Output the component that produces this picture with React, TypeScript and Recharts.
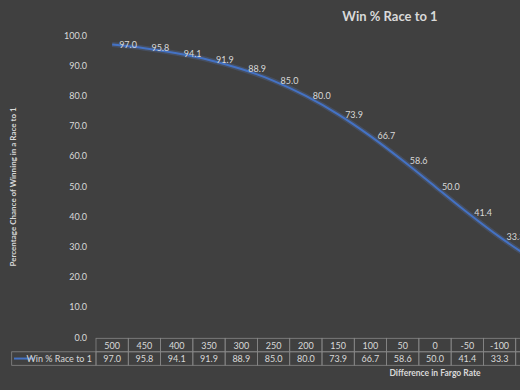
import { LineChart, Line, XAxis, YAxis, LabelList, Customized } from 'recharts';

const fargoDiff = ['500', '450', '400', '350', '300', '250', '200', '150', '100', '50', '0', '-50', '-100', '-150', '-200', '-250', '-300', '-350', '-400', '-450', '-500'];
const winPct = [97.0, 95.8, 94.1, 91.9, 88.9, 85.0, 80.0, 73.9, 66.7, 58.6, 50.0, 41.4, 33.3, 26.1, 20.0, 15.0, 11.1, 8.1, 5.9, 4.2, 3.0];
const yTicks = [0, 10, 20, 30, 40, 50, 60, 70, 80, 90, 100];

const seriesName = 'Win % Race to 1';
const data = fargoDiff.map((d, i) => ({ diff: d, win: winPct[i] }));

const W = 780;
const H = 390;
const LEFT = 96;
const RIGHT = 6;
const TOP = 35.5;
const BOTTOM = 52.5;
const COL_W = (W - LEFT - RIGHT) / fargoDiff.length;
const TABLE_TOP = 338.3;
const ROW_H = 13.5;

const FONT = 'Lato, "Open Sans", sans-serif';
const TEXT = '#d9d9d9';
const GRID = '#868686';
const BLUE = '#4472c4';

function TableTick(props: any) {
  const { x, index, payload } = props;
  const left = x - COL_W / 2;
  return (
    <g>
      <rect x={left} y={TABLE_TOP} width={COL_W} height={ROW_H} fill="none" stroke={GRID} strokeWidth={0.8} />
      <rect x={left} y={TABLE_TOP + ROW_H} width={COL_W} height={ROW_H} fill="none" stroke={GRID} strokeWidth={0.8} />
      <text x={x} y={TABLE_TOP + ROW_H / 2} textAnchor="middle" dominantBaseline="central" fontSize={9} fill={TEXT} fontFamily={FONT}>
        {payload.value}
      </text>
      <text x={x} y={TABLE_TOP + ROW_H * 1.5} textAnchor="middle" dominantBaseline="central" fontSize={9} fill={TEXT} fontFamily={FONT}>
        {winPct[index].toFixed(1)}
      </text>
    </g>
  );
}

function Extras() {
  const rowY = TABLE_TOP + ROW_H;
  return (
    <g fontFamily={FONT}>
      <text x={390} y={15.5} textAnchor="middle" dominantBaseline="central" fontSize={13} fontWeight="bold" fill={TEXT}>
        {seriesName}
      </text>
      <text
        x={13}
        y={187}
        transform="rotate(-90 13 187)"
        textAnchor="middle"
        dominantBaseline="central"
        fontSize={8}
        fontWeight="bold"
        fill={TEXT}
      >
        Percentage Chance of Winning in a Race to 1
      </text>
      <text x={435} y={372.5} textAnchor="middle" dominantBaseline="central" fontSize={8.5} fontWeight="bold" fill={TEXT}>
        Difference in Fargo Rate
      </text>
      <rect x={11.7} y={rowY} width={LEFT - 11.7} height={ROW_H} fill="none" stroke={GRID} strokeWidth={0.8} />
      <line x1={14} x2={34} y1={rowY + ROW_H / 2} y2={rowY + ROW_H / 2} stroke={BLUE} strokeWidth={2} />
      <text x={92} y={rowY + ROW_H / 2} textAnchor="end" dominantBaseline="central" fontSize={9} fill={TEXT}>
        {seriesName}
      </text>
    </g>
  );
}

export default function App() {
  return (
    <div style={{ position: 'fixed', left: 0, top: 0, width: 520, height: 390, overflow: 'hidden', background: '#404040' }}>
      <LineChart width={W} height={H} data={data} margin={{ top: TOP, right: RIGHT, bottom: BOTTOM - 30, left: 0 }}>
        <XAxis
          dataKey="diff"
          scale="band"
          height={30}
          axisLine={false}
          tickLine={false}
          interval={0}
          tick={(p: any) => <TableTick {...p} />}
        />
        <YAxis
          width={LEFT}
          domain={[0, 100]}
          ticks={yTicks}
          axisLine={false}
          tickLine={false}
          tickSize={0}
          tickMargin={9}
          tickFormatter={(v: number) => v.toFixed(1)}
          tick={{ fill: TEXT, fontSize: 9, fontFamily: FONT }}
        />
        <Line
          type="monotone"
          dataKey="win"
          stroke="#5b86d6"
          strokeOpacity={0.22}
          strokeWidth={5}
          dot={false}
          activeDot={false}
          legendType="none"
          isAnimationActive={false}
        />
        <Line
          type="monotone"
          dataKey="win"
          name={seriesName}
          stroke={BLUE}
          strokeWidth={2}
          dot={false}
          activeDot={false}
          isAnimationActive={false}
        >
          <LabelList
            dataKey="win"
            position="right"
            offset={7}
            formatter={(v: any) => Number(v).toFixed(1)}
            style={{ fill: TEXT, fontSize: 9, fontFamily: FONT }}
          />
        </Line>
        <Customized component={<Extras />} />
      </LineChart>
    </div>
  );
}
